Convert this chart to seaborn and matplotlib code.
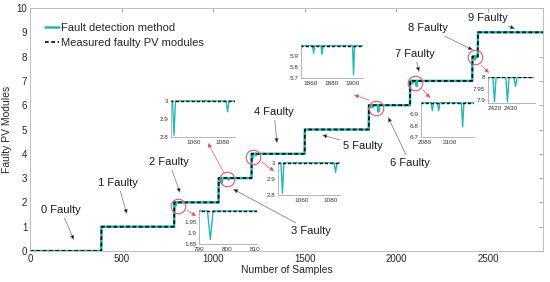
import numpy as np
import pandas as pd
import matplotlib
matplotlib.use("Agg")
import matplotlib.pyplot as plt
import seaborn as sns

# -------------------------
# DATA
# -------------------------
N_SAMPLES = 2800
step_start = [0, 390, 788, 1030, 1210, 1500, 1850, 2075, 2415, 2445]
step_level = [0, 1, 2, 3, 4, 5, 6, 7, 8, 9]

# short drops of the detection method (sample, detected value)
dip_sample = [794, 1047, 1083, 1213, 1233, 1863, 1871, 1901,
              2086, 2091, 2110, 2420, 2428, 2433]
dip_value = [1.87, 2.81, 2.94, 3.81, 3.93, 5.93, 5.92, 5.73,
             6.93, 6.93, 6.79, 7.89, 7.89, 7.96]

fault_labels = ["0 Faulty", "1 Faulty", "2 Faulty", "3 Faulty", "4 Faulty",
                "5 Faulty", "6 Faulty", "7 Faulty", "8 Faulty", "9 Faulty"]
label_x = [169, 480, 759, 1534, 1332, 1818, 2074, 2101, 2172, 2500]
label_y = [1.69, 2.80, 3.66, 0.82, 5.72, 4.32, 3.62, 8.11, 9.18, 9.59]
arrow_x = [240, 529, 819, 1108, 1348, 1594, 1954, 2123, 2418, 2647]
arrow_y = [0.45, 1.52, 2.39, 2.55, 4.44, 4.77, 5.51, 7.37, 8.27, 9.14]

# red circles on the zoomed spots, and red arrows toward the insets
circle_x = [810, 1075, 1217, 1890, 2100, 2429]
circle_y = [1.85, 2.95, 3.85, 5.90, 6.90, 7.97]
red_from_x = [857, 1059, 1266, 1850, 2145, 2462]
red_from_y = [1.69, 3.21, 3.66, 6.21, 6.63, 7.65]
red_to_x = [906, 972, 1332, 1769, 2183, 2505]
red_to_y = [1.44, 4.44, 3.29, 6.42, 6.30, 7.33]

# insets: figure box in pixels (left, top, right, bottom), axis limits, ticks
insets = [
    dict(box=(171, 100, 235, 137), xlim=(1045, 1088), ylim=(2.8, 3.005),
         xt=[1060, 1080], yt=[2.8, 2.9, 3], ytl=["2.8", "2.9", "3"]),
    dict(box=(278, 162, 340, 195), xlim=(1044, 1086), ylim=(2.8, 3.005),
         xt=[1060, 1080], yt=[2.8, 2.9, 3], ytl=["2.8", "2.9", "3"]),
    dict(box=(199, 210, 257, 244), xlim=(790, 810.5), ylim=(1.85, 2.004),
         xt=[790, 800, 810], yt=[1.85, 1.9, 1.95], ytl=["1.85", "1.9", "1.95"]),
    dict(box=(301, 45, 363, 78), xlim=(1851, 1910), ylim=(5.7, 6.006),
         xt=[1860, 1880, 1900], yt=[5.7, 5.8, 5.9], ytl=["5.7", "5.8", "5.9"]),
    dict(box=(421, 102, 474, 137), xlim=(2077, 2119), ylim=(6.7, 7.006),
         xt=[2080, 2100], yt=[6.7, 6.8, 6.9], ytl=["6.7", "6.8", "6.9"]),
    dict(box=(488, 77, 535, 103), xlim=(2416, 2445), ylim=(7.885, 8.002),
         xt=[2420, 2430], yt=[7.9, 7.95, 8], ytl=["7.9", "7.95", "8"]),
]

CYAN = "#22b8b8"
RED = "#e4585a"

# -------------------------
# Build the series
# -------------------------
samples = np.arange(0, N_SAMPLES + 1)
measured = np.array(step_level, dtype=float)[
    np.searchsorted(step_start, samples, side="right") - 1]
detected = measured.copy()
detected[dip_sample] = dip_value
df = pd.DataFrame({"sample": samples, "detected": detected, "measured": measured})

# -------------------------
# Plot
# -------------------------
sns.set_style("white")
plt.rcParams["font.family"] = ["Liberation Sans", "DejaVu Sans"]

W, H = 550, 282
fig = plt.figure(figsize=(W / 100, H / 100), dpi=100)
ax = fig.add_axes([30 / W, 1 - 251 / H, 513 / W, 243 / H])


def draw_lines(a, lw_c, lw_d, legend=False):
    sns.lineplot(data=df, x="sample", y="detected", ax=a, color=CYAN,
                 lw=lw_c, label="Fault detection method" if legend else None)
    sns.lineplot(data=df, x="sample", y="measured", ax=a, color="black",
                 lw=lw_d, linestyle=(0, (2.2, 1.6)),
                 label="Measured faulty PV modules" if legend else None)


draw_lines(ax, 1.8, 1.2, legend=True)

ax.set_xlim(0, N_SAMPLES)
ax.set_ylim(0, 10)
ax.set_xticks(range(0, 2501, 500))
ax.set_yticks(range(0, 11))
ax.set_xlabel("Number of Samples", fontsize=7.5, labelpad=1)
ax.set_ylabel("Faulty PV Modules", fontsize=7.5, labelpad=3)
ax.tick_params(direction="in", length=3, width=0.5, color="0.55",
               top=True, right=True, labelsize=7, pad=2, labelcolor="0.15")
for s in ax.spines.values():
    s.set_color("0.7")
    s.set_linewidth(0.6)

leg = ax.legend(loc="upper left", bbox_to_anchor=(0.03, 0.94), frameon=False,
                fontsize=8, handlelength=1.25, handletextpad=0.15,
                labelspacing=0.45, borderpad=0, borderaxespad=0)

# red circles
ax.plot(circle_x, circle_y, "o", ms=10.5, mfc="none", mec=RED, mew=0.8)

# red arrows to insets
for x0, y0, x1, y1 in zip(red_from_x, red_from_y, red_to_x, red_to_y):
    ax.annotate("", xy=(x1, y1), xytext=(x0, y0),
                arrowprops=dict(arrowstyle="-|>,head_length=0.4,head_width=0.2",
                                color=RED, lw=0.5, shrinkA=0, shrinkB=0,
                                mutation_scale=6))

# fault labels
for lab, tx, ty, px, py in zip(fault_labels, label_x, label_y, arrow_x, arrow_y):
    ax.annotate(lab, xy=(px, py), xytext=(tx, ty), ha="center", va="center",
                fontsize=8, color="0.1",
                arrowprops=dict(arrowstyle="-|>,head_length=0.45,head_width=0.2",
                                ec="0.45", fc="black", lw=0.5,
                                shrinkA=0, shrinkB=0, mutation_scale=6))

# insets
for ins in insets:
    l, t, r, b = ins["box"]
    iax = fig.add_axes([l / W, 1 - b / H, (r - l) / W, (b - t) / H])
    draw_lines(iax, 1.0, 1.0)
    iax.set_xlim(*ins["xlim"])
    iax.set_ylim(*ins["ylim"])
    iax.set_xticks(ins["xt"])
    iax.set_yticks(ins["yt"])
    iax.set_yticklabels(ins["ytl"])
    iax.set_xlabel("")
    iax.set_ylabel("")
    iax.tick_params(direction="in", length=1.5, width=0.4, color="0.5",
                    labelsize=4.6, labelcolor="0.2")
    iax.tick_params(axis="x", pad=2.2)
    iax.tick_params(axis="y", pad=1.8)
    iax.spines["top"].set_visible(False)
    iax.spines["right"].set_visible(False)
    for s in ("left", "bottom"):
        iax.spines[s].set_color("0.6")
        iax.spines[s].set_linewidth(0.5)
    iax.patch.set_alpha(0)

fig.savefig("out.png", dpi=100)
